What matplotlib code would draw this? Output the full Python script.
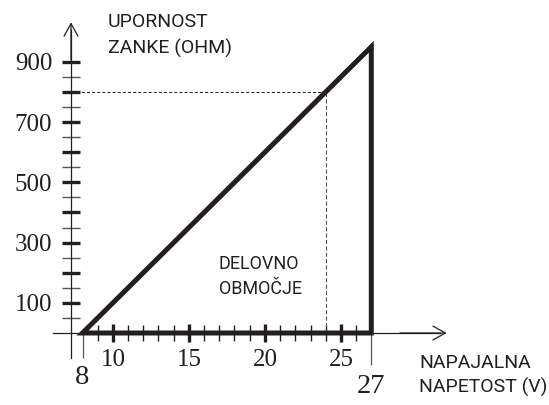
import matplotlib
matplotlib.use('Agg')
import matplotlib.pyplot as plt
from matplotlib.patches import Polygon
from matplotlib.ticker import FixedLocator, FixedFormatter

# ---------------- data ----------------
v_start, v_end = 8, 27          # supply voltage range (V)
r_top = 950                     # loop resistance at the upper corner (ohm)
op_v, op_r = 24, 800            # dashed reference point
y_major = [100, 200, 300, 400, 500, 600, 700, 800, 900]
y_labels = ['100', '', '300', '', '500', '', '700', '', '900']
y_minor = [50, 150, 250, 350, 450, 550, 650, 750, 850]
x_major = [10, 15, 20, 25]
x_labels = ['10', '15', '20', '25']
x_minor = [9, 11, 12, 13, 14, 16, 17, 18, 19, 21, 22, 23, 24, 26]
y_title = 'UPORNOST\nZANKE (OHM)'
x_title = 'NAPAJALNA\nNAPETOST (V)'
area_label = 'DELOVNO\nOBMOČJE'

# ---------------- layout ----------------
W, H = 549, 405
dark = '#231f20'
grey = '#555555'
plt.rcParams['lines.scale_dashes'] = False

fig = plt.figure(figsize=(W / 100, H / 100), dpi=100)
ax = fig.add_axes([0, 0, 1, 1])
x0px, xs = 82.5, 15.2      # pixel of x=8, pixels per volt
y0px, ys = 333.0, 0.3013   # pixel row of y=0, pixels per ohm
def dx(px): return v_start + (px - x0px) / xs
def dy(py): return (y0px - py) / ys
ax.set_xlim(dx(0), dx(W))
ax.set_ylim(dy(H), dy(0))
ax.patch.set_alpha(0)

yaxis_x = dx(71)
for s in ['top', 'right']:
    ax.spines[s].set_visible(False)
ax.spines['left'].set_position(('data', yaxis_x))
ax.spines['left'].set_bounds(dy(358), dy(30))
ax.spines['bottom'].set_position(('data', 0))
ax.spines['bottom'].set_bounds(dx(53), dx(440))
for s in ['left', 'bottom']:
    ax.spines[s].set_color(dark)
    ax.spines[s].set_linewidth(0.9)

# arrows
ap = dict(arrowstyle='->,head_length=0.9,head_width=0.5', lw=0.9, color=dark,
          shrinkA=0, shrinkB=0, mutation_scale=10)
ax.annotate('', xy=(yaxis_x, dy(22.3)), xytext=(yaxis_x, dy(60)), arrowprops=ap)
ax.annotate('', xy=(dx(446.7), 0), xytext=(dx(400), 0), arrowprops=ap)

# ticks
ax.yaxis.set_major_locator(FixedLocator(y_major))
ax.yaxis.set_major_formatter(FixedFormatter(y_labels))
ax.yaxis.set_minor_locator(FixedLocator(y_minor))
ax.xaxis.set_major_locator(FixedLocator(x_major))
ax.xaxis.set_major_formatter(FixedFormatter(x_labels))
ax.xaxis.set_minor_locator(FixedLocator(x_minor))
ax.tick_params(axis='y', which='major', direction='inout', length=13, width=2.4,
               color=dark, pad=7, labelsize=18, labelcolor=dark,
               labelfontfamily='Liberation Serif')
ax.tick_params(axis='y', which='minor', direction='inout', length=13, width=1.0,
               color=grey)
ax.tick_params(axis='x', which='major', direction='inout', length=13, width=2.4,
               color=dark, pad=5, labelsize=18, labelcolor=dark,
               labelfontfamily='Liberation Serif')
ax.tick_params(axis='x', which='minor', direction='inout', length=11, width=1.0,
               color=dark)

# operating area triangle
tri = Polygon([(v_start, 0), (v_end, r_top), (v_end, 0)], closed=True, fill=False,
              lw=3.6, edgecolor=dark, joinstyle='miter', zorder=5)
ax.add_patch(tri)

# extension lines under 8 and 27
ax.vlines([v_start], dy(358), 0, color=grey, lw=0.9)
ax.vlines([v_end], dy(365), 0, color=grey, lw=0.9)

# dashed reference lines
ax.plot([yaxis_x, op_v], [op_r, op_r], color=dark, lw=0.7, dashes=(2.2, 1.5))
ax.plot([op_v, op_v], [0, op_r], color=grey, lw=0.8, dashes=(3.0, 1.6))

# texts
def fx(px): return px / W
def fy(py): return 1 - py / H
ax.text(fx(81.7), fy(384.3), str(v_start), transform=fig.transFigure, ha='center',
        va='baseline', fontsize=20.5, family='Liberation Serif', color=dark)
ax.text(fx(371), fy(392.7), str(v_end), transform=fig.transFigure, ha='center',
        va='baseline', fontsize=20.5, family='Liberation Serif', color=dark)

sans = 'Roboto'
for txt, px, py, fs in [(y_title, 108, 27.3, 14), (area_label, 219, 269.3, 13),
                        (x_title, 419.3, 367.7, 14)]:
    lines = txt.split('\n')
    ax.text(fx(px), fy(py), lines[0], transform=fig.transFigure, ha='left',
            va='baseline', fontsize=fs, family=sans, color=dark)
    gap = {14: 26 if txt == y_title else 24.6, 13: 25}[fs]
    ax.text(fx(px), fy(py + gap), lines[1], transform=fig.transFigure, ha='left',
            va='baseline', fontsize=fs, family=sans, color=dark)

fig.savefig('out.png', dpi=100)
